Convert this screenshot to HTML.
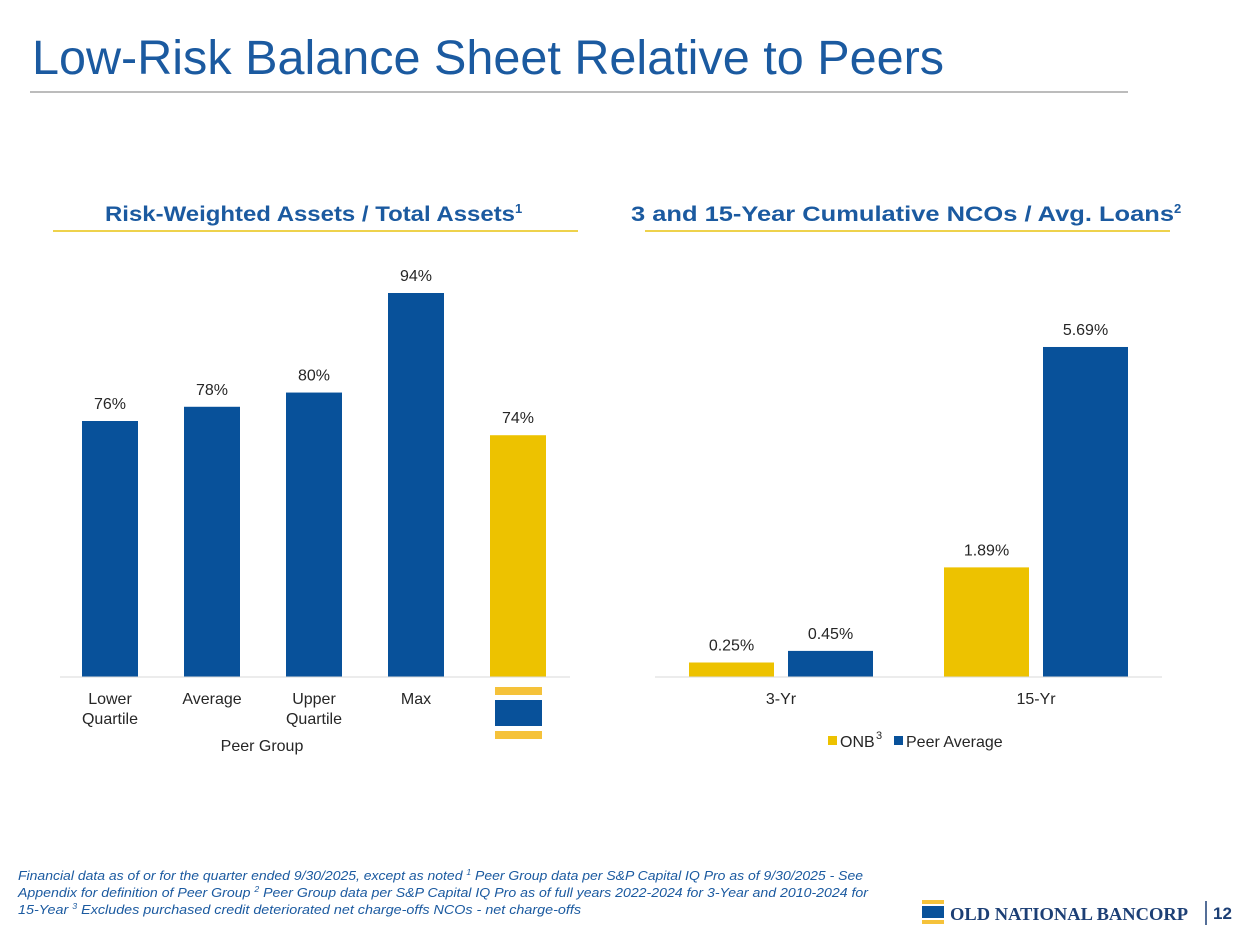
<!DOCTYPE html>
<html><head><meta charset="utf-8"><style>
body{margin:0;width:1250px;height:938px;background:#fff;font-family:"Liberation Sans",Arial,sans-serif;overflow:hidden}
</style></head><body>
<svg width="1250" height="938" xmlns="http://www.w3.org/2000/svg" font-family="Liberation Sans, Arial, sans-serif" xml:space="preserve">
<text x="32" y="74" font-size="48" fill="#1b5aa0" textLength="912" lengthAdjust="spacingAndGlyphs">Low-Risk Balance Sheet Relative to Peers</text>
<line x1="30" y1="92" x2="1128" y2="92" stroke="#a6a6a6" stroke-width="1.5"/>
<text x="105" y="221" font-size="21" font-weight="bold" fill="#1b5aa0"><tspan textLength="410" lengthAdjust="spacingAndGlyphs">Risk-Weighted Assets / Total Assets</tspan><tspan font-size="13" dy="-8">1</tspan></text>
<line x1="53" y1="231" x2="578" y2="231" stroke="#e8c410" stroke-width="1.5"/>
<text x="631" y="221" font-size="21" font-weight="bold" fill="#1b5aa0"><tspan textLength="543" lengthAdjust="spacingAndGlyphs">3 and 15-Year Cumulative NCOs / Avg. Loans</tspan><tspan font-size="13" dy="-8">2</tspan></text>
<line x1="645" y1="231" x2="1170" y2="231" stroke="#e8c410" stroke-width="1.5"/>
<g id="left"></g>
<line x1="60" y1="677" x2="570" y2="677" stroke="#d9d9d9"/>
<text x="262" y="751" font-size="16" fill="#262626" text-anchor="middle">Peer Group</text>
<g>
<rect x="495" y="687" width="47" height="8" fill="#f5c23a"/>
<rect x="495" y="700" width="47" height="26" fill="#08519a"/>
<rect x="495" y="731" width="47" height="8" fill="#f5c23a"/>
</g>
<g id="right"></g>
<line x1="655" y1="677" x2="1162" y2="677" stroke="#d9d9d9"/>
<g font-size="16" fill="#262626">
<rect x="828" y="736" width="9" height="9" fill="#edc200"/>
<text x="840" y="747">ONB</text><text x="876" y="739" font-size="11">3</text>
<rect x="894" y="736" width="9" height="9" fill="#08519a"/>
<text x="906" y="747">Peer Average</text>
</g>
<g font-size="13" font-style="italic" fill="#1b5aa0">
<text x="18" y="880" textLength="845" lengthAdjust="spacingAndGlyphs">Financial data as of or for the quarter ended 9/30/2025, except as noted   <tspan font-size="8" dy="-5">1</tspan><tspan dy="5"> Peer Group data per S&amp;P Capital IQ Pro as of 9/30/2025 - See</tspan></text>
<text x="18" y="897" textLength="850" lengthAdjust="spacingAndGlyphs">Appendix for definition of Peer Group   <tspan font-size="8" dy="-5">2</tspan><tspan dy="5"> Peer Group data per S&amp;P Capital IQ Pro as of full years 2022-2024 for 3-Year and 2010-2024 for</tspan></text>
<text x="18" y="914" textLength="563" lengthAdjust="spacingAndGlyphs">15-Year   <tspan font-size="8" dy="-5">3</tspan><tspan dy="5"> Excludes purchased credit deteriorated net charge-offs   NCOs - net charge-offs</tspan></text>
</g>
<g>
<rect x="922" y="900" width="22" height="4" fill="#f5c23a"/>
<rect x="922" y="906" width="22" height="12" fill="#08519a"/>
<rect x="922" y="920" width="22" height="4" fill="#f5c23a"/>
<text x="950" y="920" font-family="Liberation Serif, serif" font-weight="bold" font-size="18" fill="#1c3f75" textLength="238" lengthAdjust="spacingAndGlyphs">OLD NATIONAL BANCORP</text>
<line x1="1206" y1="901" x2="1206" y2="925" stroke="#1c3f75" stroke-width="1.5"/>
<text x="1213" y="919" font-size="17" font-weight="bold" fill="#1c3f75">12</text>
</g>
</svg>
<script>
const leftCats=["Lower|Quartile","Average","Upper|Quartile","Max",""];
const leftVals=[76,78,80,94,74];
const leftLabels=["76%","78%","80%","94%","74%"];
const rightCats=["3-Yr","15-Yr"];
const onbVals=[0.25,1.89];
const peerVals=[0.45,5.69];
const NS="http://www.w3.org/2000/svg";
function mk(tag,attrs,parent){const e=document.createElementNS(NS,tag);for(const k in attrs)e.setAttribute(k,attrs[k]);parent.appendChild(e);return e;}
const base=677;
const lMin=40,lScale=384/54;
const ly=v=>base-(v-lMin)*lScale;
const lx=i=>110+i*102;
const L=document.getElementById('left');
leftVals.forEach((v,i)=>{
 const r=mk('rect',{x:lx(i)-28,y:ly(v),width:56,height:base-ly(v),fill:i===4?'#edc200':'#08519a'},L);
 
 
 const t=mk('text',{x:lx(i),y:ly(v)-12,'font-size':16,fill:'#262626','text-anchor':'middle'},L);
 t.textContent=leftLabels[i];
 
 
 leftCats[i].split('|').forEach((s,j)=>{if(!s)return;
  const c=mk('text',{x:lx(i),y:704+j*20,'font-size':16,fill:'#262626','text-anchor':'middle'},L);
  c.textContent=s;
  
  
 });
});
const rScale=58;
const ry=v=>base-v*rScale;
const gx=i=>781+i*255;
const R=document.getElementById('right');
rightCats.forEach((c,i)=>{
 [[onbVals,'#edc200',-92],[peerVals,'#08519a',7]].forEach(([arr,col,off])=>{
  const v=arr[i];
  const r=mk('rect',{x:gx(i)+off,y:ry(v),width:85,height:base-ry(v),fill:col},R);
  
  
  const t=mk('text',{x:gx(i)+off+42.5,y:ry(v)-12,'font-size':16,fill:'#262626','text-anchor':'middle'},R);
  t.textContent=v.toFixed(2)+'%';
  
  
 });
 const t=mk('text',{x:gx(i),y:704,'font-size':16,fill:'#262626','text-anchor':'middle'},R);
 t.textContent=c;
 
 
});
</script>
</body></html>
